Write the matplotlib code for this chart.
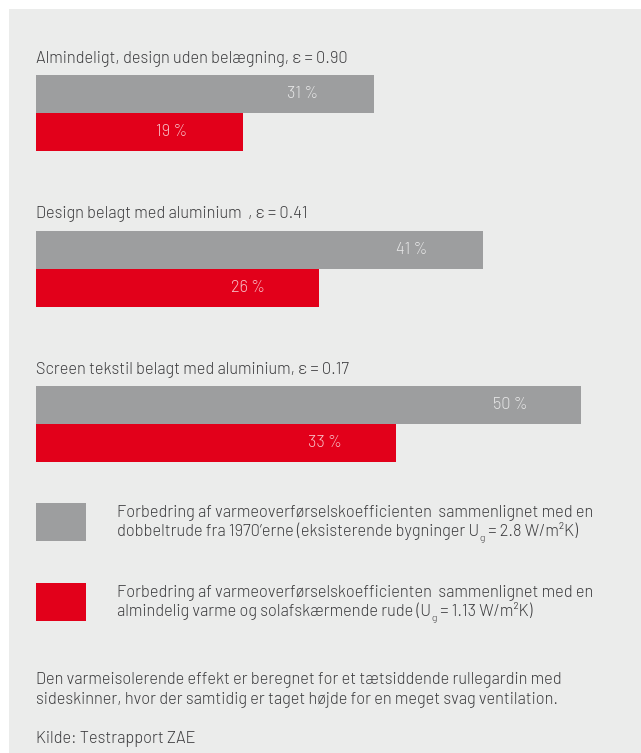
import matplotlib
matplotlib.use("Agg")
import matplotlib.pyplot as plt
from matplotlib.patches import Rectangle
from matplotlib.transforms import Affine2D

# ---- data ----
group_titles = [
    "Almindeligt, design uden belægning, ε = 0.90",
    "Design belagt med aluminium  , ε = 0.41",
    "Screen tekstil belagt med aluminium, ε = 0.17",
]
values_1970 = [31, 41, 50]      # grey series
values_modern = [19, 26, 33]    # red series
# legend lines: (text, is_subscript) pieces
legend_labels = [
    [[("Forbedring af varmeoverførselskoefficienten  sammenlignet med en", False)],
     [("dobbeltrude fra 1970’erne (eksisterende bygninger U", False), ("g", True),
      (" = 2.8 W/m²K)", False)]],
    [[("Forbedring af varmeoverførselskoefficienten  sammenlignet med en", False)],
     [("almindelig varme og solafskærmende rude (U", False), ("g", True),
      (" = 1.13 W/m²K)", False)]],
]
footnote = ["Den varmeisolerende effekt er beregnet for et tætsiddende rullegardin med",
            "sideskinner, hvor der samtidig er taget højde for en meget svag ventilation."]
source = "Kilde: Testrapport ZAE"

# ---- style ----
W, H = 641, 753
GREY = "#9d9e9f"
RED = "#e2001a"
PANEL = "#ebeceb"
TXT = "#3d3d3f"
FONT = ["Barlow", "Roboto", "DejaVu Sans"]
FS = 11.8
plt.rcParams["font.family"] = FONT
plt.rcParams["font.weight"] = 300

fig = plt.figure(figsize=(W / 100, H / 100), dpi=100)
fig.patch.set_facecolor("white")

# pixel transform (origin top-left)
pix = Affine2D().scale(1 / W, -1 / H).translate(0, 1) + fig.transFigure

# background panel
bg = fig.add_axes([0, 0, 1, 1], zorder=-5)
bg.set_xlim(0, W)
bg.set_ylim(H, 0)
bg.axis("off")
bg.add_patch(Rectangle((9, 9), W - 9, H - 9, facecolor=PANEL, edgecolor="none"))

# bar axes: x in percent, y in pixel rows
px_per_pct = 10.9
x0 = 36
ax = fig.add_axes([0, 0, 1, 1], zorder=1)
ax.set_xlim(-x0 / px_per_pct, (W - x0) / px_per_pct)
ax.set_ylim(H, 0)
ax.axis("off")
ax.patch.set_alpha(0)

bar_h = 38
first_top = 75
group_step = 155.5
label_offset = 71 / px_per_pct

for i, (title, g, r) in enumerate(zip(group_titles, values_1970, values_modern)):
    top = first_top + i * group_step
    ax.barh(top + bar_h / 2, g, height=bar_h, left=0, color=GREY, edgecolor="none")
    ax.barh(top + bar_h * 1.5, r, height=bar_h, left=0, color=RED, edgecolor="none")
    ax.text(g - label_offset, top + bar_h / 2, f"{g} %", ha="center", va="center",
            color="white", alpha=0.75, fontsize=FS)
    ax.text(r - label_offset, top + bar_h * 1.5, f"{r} %", ha="center", va="center",
            color="white", alpha=0.75, fontsize=FS)
    fig.text(x0, top - 12, title, transform=pix, ha="left", va="baseline",
             color=TXT, fontsize=FS)


def rich_line(x, y, pieces):
    """Draw a line made of pieces; subscript pieces are smaller and lowered."""
    first = fig.text(x, y, pieces[0][0], transform=pix, ha="left", va="baseline",
                     color=TXT, fontsize=FS)
    prev = first
    for txt, sub in pieces[1:]:
        if sub:
            prev = bg.annotate(txt, xy=(1, 0), xycoords=(prev, first),
                               xytext=(0.3, -2.5), textcoords="offset points",
                               ha="left", va="bottom", color=TXT, fontsize=FS * 0.62)
        else:
            prev = bg.annotate(txt, xy=(1, 0), xycoords=(prev, first),
                               ha="left", va="bottom", color=TXT, fontsize=FS)


# legend
legend_colors = [GREY, RED]
legend_tops = [503, 583]
line_gap = 19
for col, lines, t in zip(legend_colors, legend_labels, legend_tops):
    bg.add_patch(Rectangle((36, t), 50, 38, facecolor=col, edgecolor="none"))
    for k, pieces in enumerate(lines):
        rich_line(117, t + 14 + k * line_gap, pieces)

for k, line in enumerate(footnote):
    fig.text(x0, 684 + k * 20, line, transform=pix, ha="left", va="baseline",
             color=TXT, fontsize=FS)
fig.text(x0, 743, source, transform=pix, ha="left", va="baseline",
         color=TXT, fontsize=FS)

fig.savefig("out.png", dpi=100, facecolor="white")
